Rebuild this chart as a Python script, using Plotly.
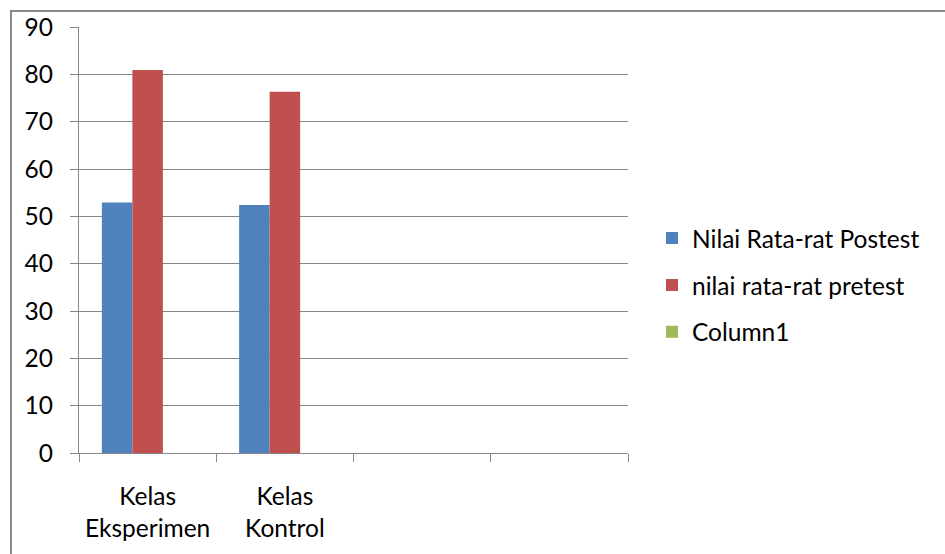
import plotly.graph_objects as go

categories = ["Kelas<br>Eksperimen", "Kelas<br>Kontrol", " ", "  "]
postest = [52.9, 52.4, None, None]
pretest = [80.9, 76.3, None, None]
column1 = [None, None, None, None]
y_ticks = [0, 10, 20, 30, 40, 50, 60, 70, 80, 90]

FONT = "Lato"
FS = 24.5
W, H = 945, 554
L, R, T, B = 79, 628, 24, 453

fig = go.Figure()
fig.add_trace(go.Bar(name="Nilai Rata-rat Postest", x=categories, y=postest,
                     marker=dict(color="#4F81BD", line=dict(width=0)), legendgroup="a"))
fig.add_trace(go.Bar(name="nilai rata-rat pretest", x=categories, y=pretest,
                     marker=dict(color="#C0504D", line=dict(width=0)), legendgroup="b"))
fig.add_trace(go.Bar(name="Column1", x=categories, y=column1,
                     marker=dict(color="#9BBB59", line=dict(width=0)), legendgroup="c"))

pw = R - L
ph = B - T
fig.add_shape(type="rect", xref="paper", yref="paper",
              x0=(11 - L) / pw, x1=1.8, y0=-0.5, y1=(B - 8) / ph,
              line=dict(color="#8A8A8A", width=2), fillcolor="rgba(0,0,0,0)", layer="below")

fig.update_layout(
    width=W, height=H,
    margin=dict(l=L, r=W - R, t=T, b=H - B),
    paper_bgcolor="white", plot_bgcolor="white",
    barmode="group", bargap=1/3, bargroupgap=0,
    font=dict(family=FONT, size=FS, color="#000000"),
    showlegend=True,
    legend=dict(x=(652 - L) / pw, y=(B - 284) / ph, xanchor="left", yanchor="middle",
                font=dict(family=FONT, size=FS, color="#000000"),
                tracegroupgap=12, itemwidth=30, bgcolor="rgba(0,0,0,0)"),
    xaxis=dict(type="category", showgrid=False, showline=True, linecolor="#868686", linewidth=1,
               ticks="outside", tickson="boundaries", ticklen=8, tickcolor="#868686",
               ticklabelstandoff=22,
               tickfont=dict(family=FONT, size=FS, color="#000000"), fixedrange=True),
    yaxis=dict(range=[0, 90], tickvals=y_ticks, showgrid=True, gridcolor="#868686", gridwidth=1.3,
               showline=True, linecolor="#868686", linewidth=1.3, ticks="outside", ticklen=8,
               tickcolor="#868686", zeroline=False, ticklabelstandoff=12,
               tickfont=dict(family=FONT, size=FS, color="#000000")),
)

fig.write_html("out.html")
